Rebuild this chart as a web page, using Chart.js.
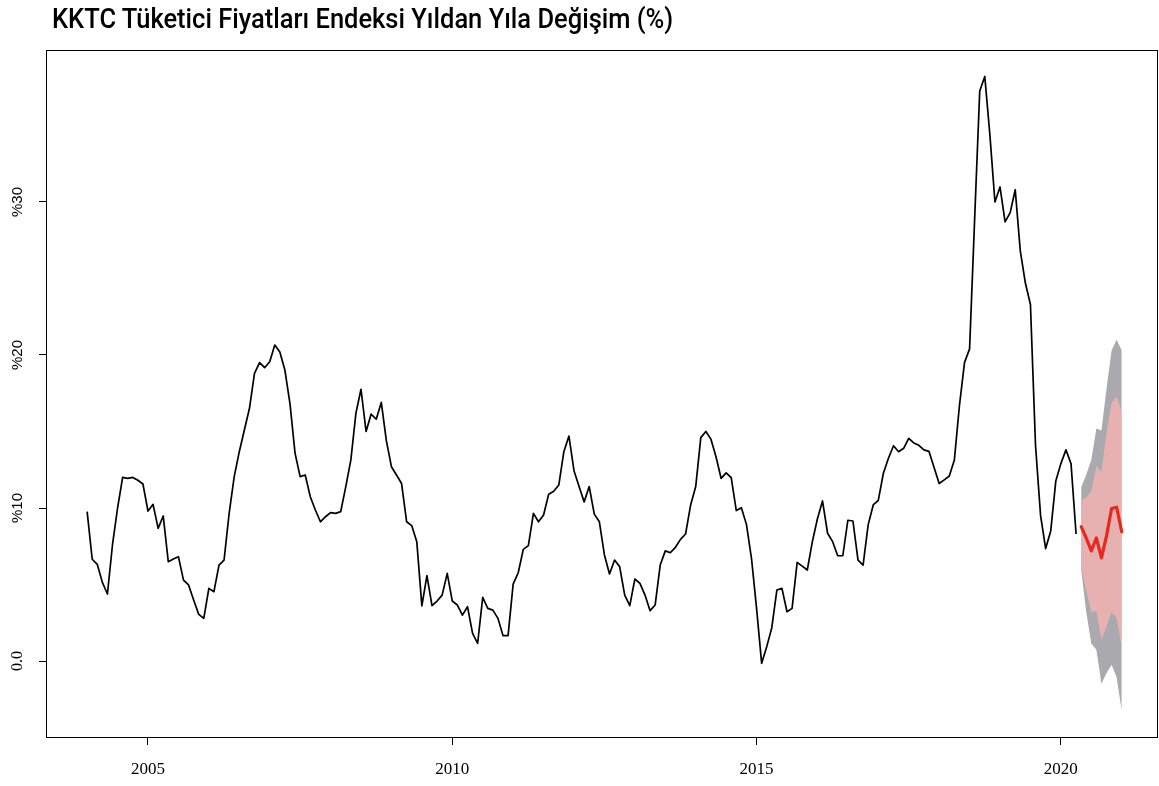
<!DOCTYPE html>
<html lang="tr">
  <head>
    <meta charset="utf-8" />
    <title>KKTC Tüketici Fiyatları Endeksi</title>
    <style>
      * {
        margin: 0;
        padding: 0;
      }
      body {
        background: #fff;
        width: 1159px;
        height: 786px;
        overflow: hidden;
        position: relative;
      }
      .chartBox {
        position: absolute;
        left: 0;
        top: 0;
        width: 1159px;
        height: 786px;
      }
      #title {
        position: absolute;
        left: 52px;
        top: 3px;
        font-family: Roboto, 'Liberation Sans', sans-serif;
        font-weight: 500;
        font-size: 27px;
        line-height: 32px;
        color: #000;
        white-space: nowrap;
        transform-origin: 0 0;
      }
    </style>
  </head>
  <body>
    <div class="chartBox"><canvas id="myChart"></canvas></div>
    <div id="title">KKTC Tüketici Fiyatları Endeksi Yıldan Yıla Değişim (%)</div>
    <script src="https://cdn.jsdelivr.net/npm/chart.js"></script>
    <script>
      // monthly yoy change, Jan 2004 .. Apr 2020
      const histStart = 2004;
      const histValues = [
        9.76, 6.65, 6.32, 5.14, 4.38, 7.6, 10.0, 12.0, 11.94, 12.0, 11.81, 11.57,
        9.8, 10.24, 8.67, 9.48, 6.49, 6.67, 6.82, 5.29, 4.97, 3.99, 3.05, 2.79,
        4.75, 4.53, 6.27, 6.6, 9.65, 12.05, 13.68, 15.1, 16.5, 18.8, 19.5, 19.17,
        19.56, 20.65, 20.2, 19.0, 16.8, 13.57, 12.05, 12.16, 10.74, 9.87, 9.1, 9.43,
        9.7, 9.65, 9.76, 11.4, 13.14, 16.2, 17.76, 15.0, 16.14, 15.8, 16.9, 14.4,
        12.7, 12.16, 11.6, 9.1, 8.85, 7.8, 3.6, 5.58, 3.62, 3.92, 4.31, 5.73,
        3.92, 3.66, 3.0, 3.55, 1.81, 1.16, 4.16, 3.44, 3.33, 2.79, 1.66, 1.66,
        5.03, 5.77, 7.3, 7.54, 9.65, 9.1, 9.54, 10.9, 11.1, 11.5, 13.68, 14.7,
        12.44, 11.4, 10.4, 11.4, 9.6, 9.1, 6.93, 5.69, 6.6, 6.17, 4.31, 3.62,
        5.36, 5.07, 4.31, 3.29, 3.66, 6.27, 7.2, 7.08, 7.43, 7.95, 8.3, 10.2,
        11.4, 14.6, 15.0, 14.5, 13.35, 11.94, 12.3, 11.98, 9.83, 10.02, 8.93, 6.7,
        3.44, -0.15, 0.94, 2.18, 4.64, 4.75, 3.22, 3.44, 6.45, 6.2, 5.95, 7.8,
        9.3, 10.46, 8.35, 7.8, 6.88, 6.88, 9.2, 9.15, 6.6, 6.27, 8.9, 10.2,
        10.5, 12.27, 13.25, 14.07, 13.68, 13.9, 14.55, 14.25, 14.1, 13.8, 13.7, 12.64,
        11.6, 11.84, 12.09, 13.14, 16.7, 19.5, 20.4, 28.9, 37.25, 38.2, 34.4, 30.0,
        30.98, 28.7, 29.3, 30.8, 26.8, 24.7, 23.3, 14.1, 9.5, 7.35, 8.5, 11.76,
        12.9, 13.8, 12.9, 8.3,
      ];

      // forecast, May 2020 .. Jan 2021
      const fcStart = 2020 + 4 / 12;
      const fcMean = [8.78, 8.04, 7.2, 8.04, 6.74, 8.18, 9.97, 10.05, 8.45];
      const hi80 = [10.44, 10.7, 11.07, 12.73, 12.37, 14.93, 16.86, 17.27, 16.3];
      const lo80 = [6.11, 4.59, 3.2, 3.27, 1.42, 2.25, 3.2, 2.8, 0.87];
      const hi95 = [11.35, 12.17, 13.14, 15.2, 15.06, 17.8, 20.3, 21.0, 20.3];
      const lo95 = [5.97, 3.2, 1.14, 0.73, -1.48, -0.78, -0.24, -1.06, -3.27];

      const xTicks = [2005, 2010, 2015, 2020];
      const yTicks = [0, 10, 20, 30];
      const yTickLabels = ['0.0', '%10', '%20', '%30'];

      const toPoints = (arr, t0) => arr.map((v, i) => ({ x: t0 + i / 12, y: v }));

      // R style box around the plot area
      const frame = {
        id: 'frame',
        afterDraw(chart) {
          const {
            ctx,
            chartArea: { left, right, top, bottom },
          } = chart;
          ctx.save();
          ctx.strokeStyle = '#000';
          ctx.lineWidth = 1;
          ctx.strokeRect(left + 0.5, top + 0.5, right - left - 1, bottom - top - 1);
          ctx.restore();
        },
      };

      const config = {
        type: 'line',
        data: {
          datasets: [
            {
              label: '95% üst',
              data: toPoints(hi95, fcStart),
              borderColor: 'rgba(0,0,0,0)',
              borderWidth: 0,
              backgroundColor: '#a9a9ae',
              fill: '+1',
              order: 5,
            },
            {
              label: '95% alt',
              data: toPoints(lo95, fcStart),
              borderColor: 'rgba(0,0,0,0)',
              borderWidth: 0,
              fill: false,
              order: 5,
            },
            {
              label: '80% üst',
              data: toPoints(hi80, fcStart),
              borderColor: 'rgba(0,0,0,0)',
              borderWidth: 0,
              backgroundColor: '#e8b1b1',
              fill: '+1',
              order: 3,
            },
            {
              label: '80% alt',
              data: toPoints(lo80, fcStart),
              borderColor: 'rgba(0,0,0,0)',
              borderWidth: 0,
              fill: false,
              order: 3,
            },
            {
              label: 'TÜFE',
              data: toPoints(histValues, histStart),
              borderColor: '#000',
              borderWidth: 1.7,
              borderJoinStyle: 'round',
              fill: false,
              order: 1,
            },
            {
              label: 'Tahmin',
              data: toPoints(fcMean, fcStart),
              borderColor: '#e8281e',
              borderWidth: 3.2,
              borderJoinStyle: 'round',
              borderCapStyle: 'round',
              fill: false,
              order: 0,
            },
          ],
        },
        options: {
          responsive: true,
          maintainAspectRatio: false,
          animation: false,
          devicePixelRatio: 1,
          elements: { point: { radius: 0 }, line: { tension: 0 } },
          layout: { padding: { top: 50, right: 1, left: 0, bottom: 0 } },
          plugins: {
            legend: { display: false },
            tooltip: { enabled: false },
            title: { display: false },
          },
          scales: {
            x: {
              type: 'linear',
              min: 2003.324,
              max: 2021.596,
              afterBuildTicks: (s) => {
                s.ticks = xTicks.map((v) => ({ value: v }));
              },
              afterFit: (s) => {
                s.height = 48;
              },
              ticks: {
                color: '#000',
                padding: 14,
                maxRotation: 0,
                font: { family: 'Liberation Serif', size: 17 },
                callback: (v) => String(v),
              },
              grid: { drawOnChartArea: false, drawTicks: true, tickLength: 7, color: '#000' },
              border: { display: false },
            },
            y: {
              type: 'linear',
              min: -5.03,
              max: 39.93,
              afterBuildTicks: (s) => {
                s.ticks = yTicks.map((v) => ({ value: v }));
              },
              afterFit: (s) => {
                s.width = 46;
              },
              ticks: {
                color: '#000',
                padding: 6,
                minRotation: 90,
                maxRotation: 90,
                crossAlign: 'center',
                font: (c) =>
                  c.tick && c.tick.value === 0
                    ? { family: 'Liberation Serif', size: 16 }
                    : { family: 'Liberation Sans', size: 15 },
                callback: (v) => yTickLabels[yTicks.indexOf(v)],
              },
              grid: { drawOnChartArea: false, drawTicks: true, tickLength: 7, color: '#000' },
              border: { display: false },
            },
          },
        },
        plugins: [frame],
      };

      const myChart = new Chart(document.getElementById('myChart'), config);

      // squeeze the title to the reference width
      const title = document.getElementById('title');
      title.style.transform = 'scaleX(' + 621 / title.offsetWidth + ')';
    </script>
  </body>
</html>
